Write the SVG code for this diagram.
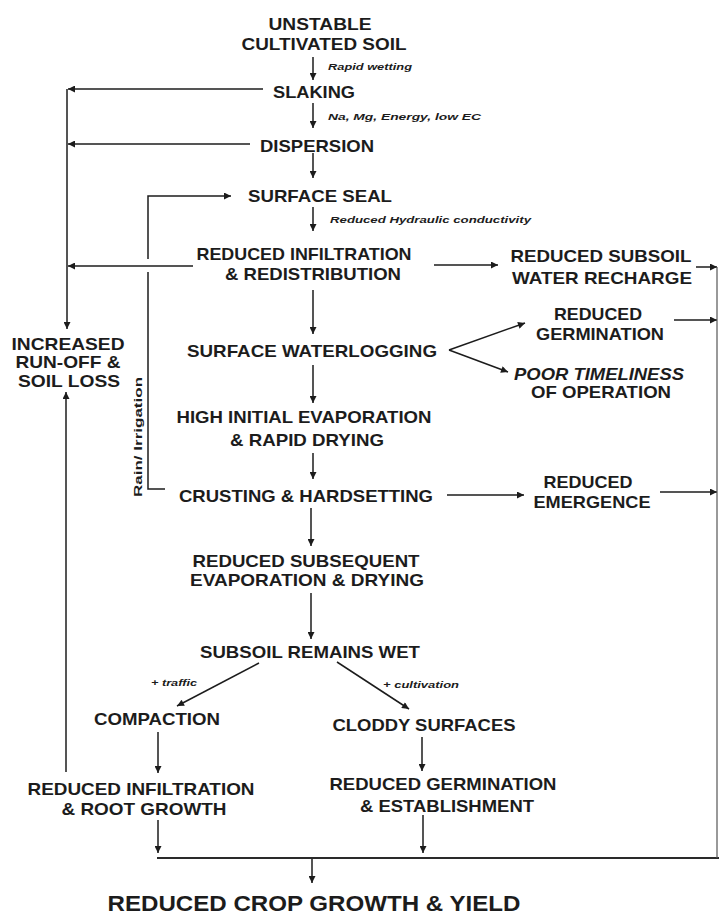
<svg xmlns="http://www.w3.org/2000/svg" width="719" height="915" viewBox="0 0 719 915">
<defs>
<style>
.t{font-family:"Liberation Sans",Arial,Helvetica,sans-serif;font-weight:bold;font-size:17px;fill:#1c1c1c;text-anchor:middle}
.big{font-size:22px}
.s{font-family:"Liberation Sans",Arial,Helvetica,sans-serif;font-weight:bold;font-style:italic;font-size:9px;fill:#1c1c1c;text-anchor:start}
.r{font-family:"Liberation Sans",Arial,Helvetica,sans-serif;font-weight:bold;font-size:11px;fill:#1c1c1c;text-anchor:middle}
.c{fill:none;stroke:#1c1c1c;stroke-width:1.5}
.c2{fill:none;stroke:#2a2a2a;stroke-width:2.2}
.c3{fill:none;stroke:#555;stroke-width:1.2}
</style>
<marker id="ah" viewBox="0 0 10 10" refX="10" refY="5" markerWidth="9" markerHeight="7" markerUnits="userSpaceOnUse" orient="auto">
<path d="M0,0 L10,5 L0,10 z" fill="#1c1c1c"/>
</marker>
</defs>
<rect width="719" height="915" fill="#fff"/>

<g id="connectors">
<line class="c" x1="313" y1="57" x2="313" y2="80" marker-end="url(#ah)"/>
<line class="c" x1="263" y1="89" x2="68" y2="89" marker-end="url(#ah)"/>
<line class="c" x1="313" y1="103" x2="313" y2="128" marker-end="url(#ah)"/>
<line class="c" x1="250" y1="144" x2="68" y2="144" marker-end="url(#ah)"/>
<line class="c" x1="313" y1="153" x2="313" y2="178" marker-end="url(#ah)"/>
<path class="c" d="M165,489 H148 V272 M148,259 V196 H231" marker-end="url(#ah)"/>
<line class="c" x1="313" y1="207" x2="313" y2="231" marker-end="url(#ah)"/>
<line class="c" x1="193" y1="266" x2="68" y2="266" marker-end="url(#ah)"/>
<line class="c" x1="434" y1="265" x2="498" y2="265" marker-end="url(#ah)"/>
<line class="c" x1="696" y1="267" x2="717" y2="267" marker-end="url(#ah)"/>
<line class="c" x1="67" y1="89" x2="67" y2="329" marker-end="url(#ah)"/>
<line class="c" x1="313" y1="290" x2="313" y2="334" marker-end="url(#ah)"/>
<line class="c" x1="449" y1="350" x2="525" y2="323" marker-end="url(#ah)"/>
<line class="c" x1="449" y1="350" x2="508" y2="372" marker-end="url(#ah)"/>
<line class="c" x1="674" y1="320" x2="717" y2="320" marker-end="url(#ah)"/>
<line class="c" x1="313" y1="365" x2="313" y2="403" marker-end="url(#ah)"/>
<line class="c" x1="313" y1="453" x2="313" y2="479" marker-end="url(#ah)"/>
<line class="c" x1="447" y1="495" x2="524" y2="495" marker-end="url(#ah)"/>
<line class="c" x1="660" y1="492" x2="717" y2="492" marker-end="url(#ah)"/>
<line class="c" x1="311" y1="508" x2="311" y2="546" marker-end="url(#ah)"/>
<line class="c" x1="311" y1="593" x2="311" y2="639" marker-end="url(#ah)"/>
<line class="c" x1="259" y1="663" x2="177" y2="706" marker-end="url(#ah)"/>
<line class="c" x1="337" y1="662" x2="409" y2="709" marker-end="url(#ah)"/>
<line class="c" x1="158" y1="732" x2="158" y2="773" marker-end="url(#ah)"/>
<line class="c" x1="422" y1="737" x2="422" y2="771" marker-end="url(#ah)"/>
<line class="c" x1="66" y1="772" x2="66" y2="392" marker-end="url(#ah)"/>
<line class="c" x1="158" y1="820" x2="158" y2="853" marker-end="url(#ah)"/>
<line class="c" x1="423" y1="815" x2="423" y2="853" marker-end="url(#ah)"/>
<line class="c2" x1="157" y1="858" x2="719" y2="858"/>
<line class="c3" x1="717" y1="267" x2="717" y2="858"/>
<line class="c" x1="312" y1="859" x2="312" y2="883" marker-end="url(#ah)"/>
<text class="s" x="328" y="70" textLength="84" lengthAdjust="spacingAndGlyphs">Rapid wetting</text>
<text class="s" x="328" y="120" textLength="153" lengthAdjust="spacingAndGlyphs">Na, Mg, Energy, low EC</text>
<text class="s" x="330" y="223" textLength="201" lengthAdjust="spacingAndGlyphs">Reduced Hydraulic conductivity</text>
<text class="r" transform="translate(142,437) rotate(-90)" textLength="120" lengthAdjust="spacingAndGlyphs">Rain/ Irrigation</text>
<text class="s" x="151" y="686" textLength="46" lengthAdjust="spacingAndGlyphs">+ traffic</text>
<text class="s" x="383" y="688" textLength="76" lengthAdjust="spacingAndGlyphs">+ cultivation</text>
</g>

<g id="unstable"><text class="t" x="320" y="30" textLength="103" lengthAdjust="spacingAndGlyphs">UNSTABLE</text><text class="t" x="324" y="50" textLength="165" lengthAdjust="spacingAndGlyphs">CULTIVATED SOIL</text></g>
<g id="slaking"><text class="t" x="314" y="98" textLength="82" lengthAdjust="spacingAndGlyphs">SLAKING</text></g>
<g id="dispersion"><text class="t" x="317" y="152" textLength="114" lengthAdjust="spacingAndGlyphs">DISPERSION</text></g>
<g id="surface-seal"><text class="t" x="320" y="202" textLength="144" lengthAdjust="spacingAndGlyphs">SURFACE SEAL</text></g>
<g id="reduced-infiltration"><text class="t" x="304" y="260" textLength="215" lengthAdjust="spacingAndGlyphs">REDUCED INFILTRATION</text><text class="t" x="313" y="280" textLength="176" lengthAdjust="spacingAndGlyphs">&amp; REDISTRIBUTION</text></g>
<g id="subsoil-recharge"><text class="t" x="601" y="262" textLength="181" lengthAdjust="spacingAndGlyphs">REDUCED SUBSOIL</text><text class="t" x="602" y="284" textLength="180" lengthAdjust="spacingAndGlyphs">WATER RECHARGE</text></g>
<g id="reduced-germination"><text class="t" x="598" y="320" textLength="88" lengthAdjust="spacingAndGlyphs">REDUCED</text><text class="t" x="600" y="340" textLength="128" lengthAdjust="spacingAndGlyphs">GERMINATION</text></g>
<g id="poor-timeliness"><text class="t" x="599" y="380" font-style="italic" textLength="170" lengthAdjust="spacingAndGlyphs">POOR TIMELINESS</text><text class="t" x="601" y="398" textLength="140" lengthAdjust="spacingAndGlyphs">OF OPERATION</text></g>
<g id="waterlogging"><text class="t" x="312" y="357" textLength="250" lengthAdjust="spacingAndGlyphs">SURFACE WATERLOGGING</text></g>
<g id="runoff"><text class="t" x="68" y="350" textLength="113" lengthAdjust="spacingAndGlyphs">INCREASED</text><text class="t" x="68" y="368" textLength="105" lengthAdjust="spacingAndGlyphs">RUN-OFF &amp;</text><text class="t" x="69" y="387" textLength="102" lengthAdjust="spacingAndGlyphs">SOIL LOSS</text></g>
<g id="high-evaporation"><text class="t" x="304" y="423" textLength="255" lengthAdjust="spacingAndGlyphs">HIGH INITIAL EVAPORATION</text><text class="t" x="307" y="446" textLength="154" lengthAdjust="spacingAndGlyphs">&amp; RAPID DRYING</text></g>
<g id="crusting"><text class="t" x="306" y="502" textLength="254" lengthAdjust="spacingAndGlyphs">CRUSTING &amp; HARDSETTING</text></g>
<g id="reduced-emergence"><text class="t" x="588" y="488" textLength="89" lengthAdjust="spacingAndGlyphs">REDUCED</text><text class="t" x="592" y="508" textLength="117" lengthAdjust="spacingAndGlyphs">EMERGENCE</text></g>
<g id="subsequent-evaporation"><text class="t" x="306" y="567" textLength="227" lengthAdjust="spacingAndGlyphs">REDUCED SUBSEQUENT</text><text class="t" x="307" y="586" textLength="234" lengthAdjust="spacingAndGlyphs">EVAPORATION &amp; DRYING</text></g>
<g id="subsoil-wet"><text class="t" x="310" y="658" textLength="220" lengthAdjust="spacingAndGlyphs">SUBSOIL REMAINS WET</text></g>
<g id="compaction"><text class="t" x="157" y="725" textLength="126" lengthAdjust="spacingAndGlyphs">COMPACTION</text></g>
<g id="cloddy"><text class="t" x="424" y="731" textLength="183" lengthAdjust="spacingAndGlyphs">CLODDY SURFACES</text></g>
<g id="root-growth"><text class="t" x="141" y="795" textLength="227" lengthAdjust="spacingAndGlyphs">REDUCED INFILTRATION</text><text class="t" x="144" y="815" textLength="165" lengthAdjust="spacingAndGlyphs">&amp; ROOT GROWTH</text></g>
<g id="establishment"><text class="t" x="443" y="790" textLength="227" lengthAdjust="spacingAndGlyphs">REDUCED GERMINATION</text><text class="t" x="447" y="812" textLength="174" lengthAdjust="spacingAndGlyphs">&amp; ESTABLISHMENT</text></g>
<g id="crop-yield"><text class="t big" x="314" y="911" textLength="413" lengthAdjust="spacingAndGlyphs">REDUCED CROP GROWTH &amp; YIELD</text></g>
</svg>
